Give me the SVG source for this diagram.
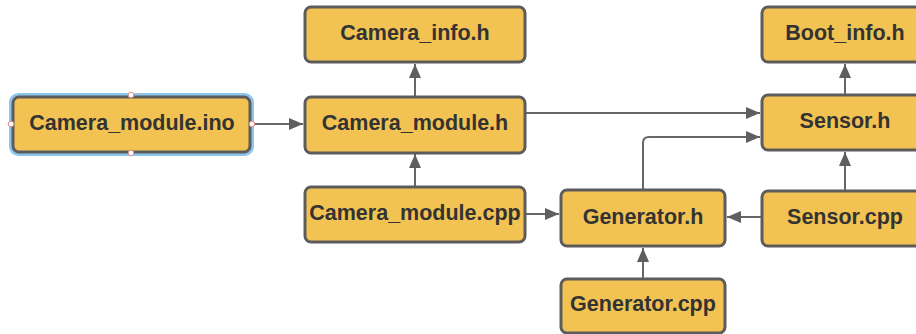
<svg xmlns="http://www.w3.org/2000/svg" width="916" height="334" viewBox="0 0 916 334">
  <defs>
    <marker id="arrow" viewBox="0 0 14 12" refX="14" refY="6" markerWidth="14" markerHeight="12" markerUnits="userSpaceOnUse" orient="auto">
      <path d="M0,0 L14,6 L0,12 Z" fill="#5f5f5f"/>
    </marker>
    <style>
      .box { fill: #f2c352; stroke: #5c5c5c; stroke-width: 3; }
      .label { font-family: "Liberation Sans", Arial, sans-serif; font-weight: bold; font-size: 21.5px; fill: #333333; text-anchor: middle; dominant-baseline: central; }
      .edge { fill: none; stroke: #666666; stroke-width: 2; marker-end: url(#arrow); }
      .handle { fill: #ffffff; stroke: #e08a8a; stroke-width: 1; }
    </style>
  </defs>
  <rect width="916" height="334" fill="#ffffff"/>

  <g id="connectors">
    <line class="edge" x1="252" y1="124" x2="303" y2="124"/>
    <line class="edge" x1="415" y1="96" x2="415" y2="64"/>
    <line class="edge" x1="415" y1="186" x2="415" y2="154"/>
    <line class="edge" x1="526" y1="113" x2="760" y2="113"/>
    <path class="edge" d="M643,189 V143 Q643,137 649,137 H760"/>
    <line class="edge" x1="526" y1="214" x2="559" y2="214"/>
    <line class="edge" x1="643" y1="278" x2="643" y2="248"/>
    <line class="edge" x1="761" y1="217" x2="727" y2="217"/>
    <line class="edge" x1="845" y1="94" x2="845" y2="64"/>
    <line class="edge" x1="845" y1="190" x2="845" y2="152"/>
  </g>

  <g id="camera_module_ino">
    <rect x="10.5" y="94.5" width="242" height="60" rx="8" fill="none" stroke="#8ec5ea" stroke-width="3"/>
    <rect class="box" x="13" y="97" width="237" height="55" rx="6"/>
    <text class="label" x="132" y="123">Camera_module.ino</text>
    <circle class="handle" cx="131" cy="95" r="2.8"/>
    <circle class="handle" cx="131" cy="153" r="2.8"/>
    <circle class="handle" cx="11" cy="124" r="2.8"/>
    <circle class="handle" cx="252" cy="124" r="2.8"/>
  </g>

  <g id="camera_info_h">
    <rect class="box" x="305" y="7" width="220" height="55" rx="6"/>
    <text class="label" x="415" y="32.5">Camera_info.h</text>
  </g>

  <g id="camera_module_h">
    <rect class="box" x="305" y="97" width="220" height="56" rx="6"/>
    <text class="label" x="415" y="123">Camera_module.h</text>
  </g>

  <g id="camera_module_cpp">
    <rect class="box" x="305" y="187" width="220" height="55" rx="6"/>
    <text class="label" x="415" y="212.5">Camera_module.cpp</text>
  </g>

  <g id="generator_h">
    <rect class="box" x="561" y="190" width="164" height="56" rx="6"/>
    <text class="label" x="643" y="216.5">Generator.h</text>
  </g>

  <g id="generator_cpp">
    <rect class="box" x="561" y="279" width="164" height="54" rx="6"/>
    <text class="label" x="643" y="303.5">Generator.cpp</text>
  </g>

  <g id="boot_info_h">
    <rect class="box" x="762" y="7" width="166" height="55" rx="6"/>
    <text class="label" x="845" y="32.5">Boot_info.h</text>
  </g>

  <g id="sensor_h">
    <rect class="box" x="762" y="95" width="166" height="55" rx="6"/>
    <text class="label" x="845" y="120.5">Sensor.h</text>
  </g>

  <g id="sensor_cpp">
    <rect class="box" x="762" y="191" width="166" height="55" rx="6"/>
    <text class="label" x="845" y="216.5">Sensor.cpp</text>
  </g>
</svg>
